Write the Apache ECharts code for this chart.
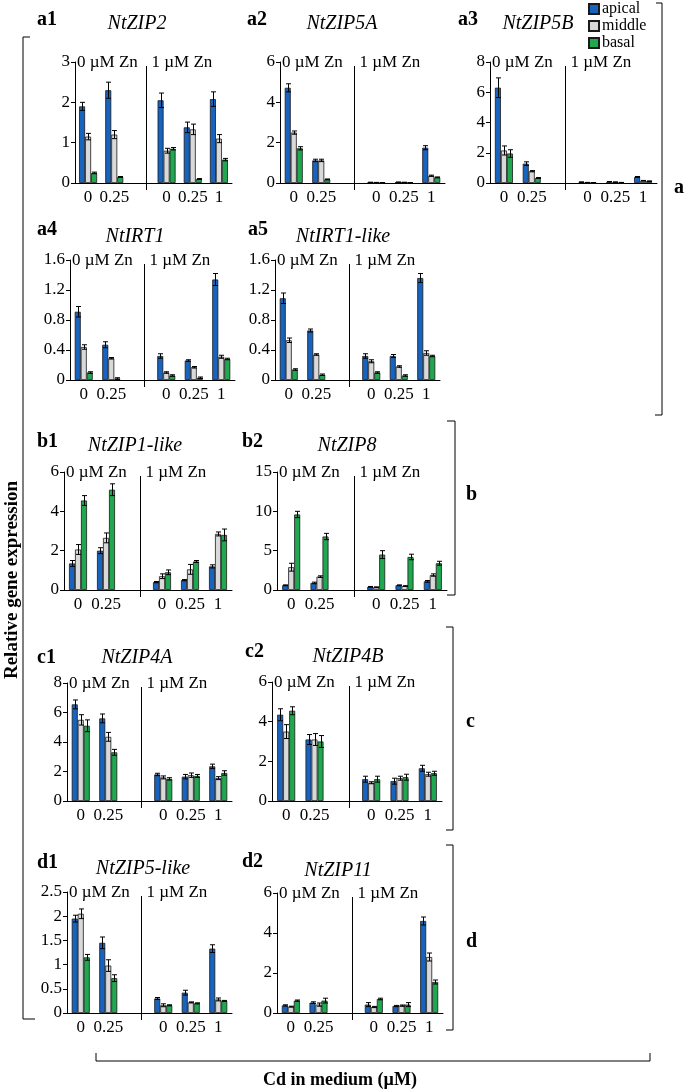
<!DOCTYPE html>
<html><head><meta charset="utf-8">
<script src="https://cdn.jsdelivr.net/npm/echarts@6/dist/echarts.min.js"></script>
<style>html,body{margin:0;padding:0;background:#fff}#c{width:685px;height:1090px}</style>
</head><body><div id="c"></div>
<script>
// ---------- data ----------
const categories = ['0', '0.25', '', '0', '0.25', '1'];
const tissues = ['apical', 'middle', 'basal'];
const panelIds = ['a1', 'a2', 'a3', 'a4', 'a5', 'b1', 'b2', 'c1', 'c2', 'd1', 'd2'];
const genes = ['NtZIP2', 'NtZIP5A', 'NtZIP5B', 'NtIRT1', 'NtIRT1-like', 'NtZIP1-like', 'NtZIP8', 'NtZIP4A', 'NtZIP4B', 'NtZIP5-like', 'NtZIP11'];
const yMax = [3, 6, 8, 1.6, 1.6, 6, 15, 8, 6, 2.5, 6];
const yStep = [1, 2, 2, 0.4, 0.4, 2, 5, 2, 2, 0.5, 2];
const groupLabels = ['a', 'b', 'c', 'd'];
const znLabels = ['0 µM Zn', '1 µM Zn'];

// rows: apical, middle, basal ; columns follow categories (null = empty slot)
const a1Mean = [[1.9, 2.3, null, 2.05, 1.38, 2.08], [1.15, 1.2, null, 0.8, 1.33, 1.1], [0.25, 0.15, null, 0.85, 0.1, 0.58]];
const a1Err  = [[0.1, 0.2, null, 0.18, 0.13, 0.18], [0.08, 0.1, null, 0.06, 0.13, 0.1], [0.02, 0.01, null, 0.03, 0.01, 0.03]];
const a2Mean = [[4.72, 1.12, null, 0.03, 0.04, 1.75], [2.5, 1.12, null, 0.02, 0.03, 0.36], [1.72, 0.18, null, 0.01, 0.01, 0.28]];
const a2Err  = [[0.2, 0.06, null, 0.01, 0.01, 0.1], [0.08, 0.06, null, 0.01, 0.01, 0.03], [0.08, 0.02, null, 0.01, 0.01, 0.02]];
const a3Mean = [[6.3, 1.28, null, 0.06, 0.09, 0.4], [2.15, 0.78, null, 0.03, 0.06, 0.15], [1.95, 0.33, null, 0.02, 0.03, 0.12]];
const a3Err  = [[0.65, 0.12, null, 0.01, 0.01, 0.03], [0.3, 0.04, null, 0.01, 0.01, 0.02], [0.25, 0.03, null, 0.01, 0.01, 0.02]];
const a4Mean = [[0.91, 0.47, null, 0.32, 0.26, 1.34], [0.44, 0.29, null, 0.1, 0.17, 0.31], [0.1, 0.02, null, 0.06, 0.03, 0.28]];
const a4Err  = [[0.07, 0.04, null, 0.03, 0.01, 0.08], [0.03, 0.01, null, 0.01, 0.01, 0.02], [0.01, 0.01, null, 0.01, 0.01, 0.01]];
const a5Mean = [[1.09, 0.66, null, 0.32, 0.32, 1.36], [0.53, 0.34, null, 0.25, 0.18, 0.36], [0.14, 0.07, null, 0.1, 0.06, 0.32]];
const a5Err  = [[0.07, 0.02, null, 0.03, 0.02, 0.06], [0.03, 0.01, null, 0.02, 0.01, 0.03], [0.01, 0.01, null, 0.01, 0.01, 0.01]];
const b1Mean = [[1.35, 2.0, null, 0.4, 0.5, 1.2], [2.06, 2.65, null, 0.7, 1.05, 2.85], [4.55, 5.1, null, 0.9, 1.45, 2.8]];
const b1Err  = [[0.15, 0.15, null, 0.03, 0.03, 0.08], [0.25, 0.25, null, 0.12, 0.25, 0.1], [0.25, 0.3, null, 0.12, 0.05, 0.3]];
const b2Mean = [[0.6, 0.9, null, 0.4, 0.6, 1.1], [2.9, 1.7, null, 0.35, 0.5, 1.9], [9.6, 6.8, null, 4.5, 4.2, 3.4]];
const b2Err  = [[0.05, 0.1, null, 0.05, 0.05, 0.1], [0.5, 0.1, null, 0.05, 0.05, 0.15], [0.4, 0.4, null, 0.5, 0.35, 0.25]];
const c1Mean = [[6.55, 5.6, null, 1.8, 1.65, 2.35], [5.5, 4.35, null, 1.6, 1.75, 1.55], [5.1, 3.3, null, 1.5, 1.7, 1.9]];
const c1Err  = [[0.3, 0.3, null, 0.08, 0.15, 0.15], [0.35, 0.3, null, 0.1, 0.15, 0.1], [0.4, 0.2, null, 0.08, 0.1, 0.15]];
const c2Mean = [[4.35, 3.1, null, 1.1, 1.0, 1.65], [3.5, 3.1, null, 0.92, 1.15, 1.35], [4.55, 3.0, null, 1.1, 1.2, 1.4]];
const c2Err  = [[0.3, 0.25, null, 0.15, 0.15, 0.15], [0.35, 0.3, null, 0.05, 0.1, 0.1], [0.2, 0.3, null, 0.15, 0.15, 0.1]];
const d1Mean = [[1.95, 1.45, null, 0.3, 0.42, 1.33], [2.05, 0.98, null, 0.16, 0.22, 0.28], [1.15, 0.72, null, 0.16, 0.2, 0.25]];
const d1Err  = [[0.07, 0.12, null, 0.02, 0.05, 0.08], [0.1, 0.12, null, 0.03, 0.01, 0.03], [0.06, 0.07, null, 0.01, 0.01, 0.01]];
const d2Mean = [[0.38, 0.52, null, 0.42, 0.35, 4.6], [0.32, 0.42, null, 0.3, 0.37, 2.8], [0.62, 0.62, null, 0.7, 0.42, 1.55]];
const d2Err  = [[0.03, 0.04, null, 0.1, 0.03, 0.2], [0.02, 0.08, null, 0.03, 0.03, 0.2], [0.03, 0.12, null, 0.04, 0.1, 0.1]];

const means = [a1Mean, a2Mean, a3Mean, a4Mean, a5Mean, b1Mean, b2Mean, c1Mean, c2Mean, d1Mean, d2Mean];
const errs  = [a1Err, a2Err, a3Err, a4Err, a5Err, b1Err, b2Err, c1Err, c2Err, d1Err, d2Err];

// ---------- layout / style ----------
const FONT = '"Liberation Serif", "Times New Roman", serif';
const colors = ['#1763be', '#d9d9d9', '#1fa84f'];
const BAR_W = 6;
// [left, top, width, height] of each plot area
const layout = [
  [75, 62, 157, 121], [280, 62, 165, 121], [490, 62, 167, 121],
  [70, 260, 165, 120], [275, 260, 165, 120],
  [64, 472, 168, 118], [277, 472, 170, 118],
  [67, 683, 165, 118], [272, 682, 170, 119],
  [67, 892, 165, 121], [277, 893, 166, 120]
];
// panel label position [x, y] and title centre [x, y]
const labelPos = [[37, 20], [247, 20], [458, 20], [37, 230], [248, 230], [37, 442], [242, 442], [37, 658], [245, 652], [37, 863], [242, 862]];
const titlePos = [[137, 24], [342, 24], [538, 24], [135, 237], [343, 237], [135, 446], [347, 446], [137, 658], [348, 657], [143, 869], [338, 871]];

const chart = echarts.init(document.getElementById('c'), null, {renderer: 'canvas'});

const grids = [], xAxes = [], yAxes = [], series = [];
panelIds.forEach((id, i) => {
  const [l, t, w, h] = layout[i];
  grids.push({left: l, top: t, width: w, height: h, outerBoundsMode: 'none'});
  xAxes.push({
    type: 'category', gridIndex: i, data: categories,
    axisTick: {show: false},
    axisLine: {lineStyle: {color: '#000', width: 1}},
    axisLabel: {interval: 0, hideOverlap: false, color: '#000', fontFamily: FONT, fontSize: 17, margin: 6}
  });
  yAxes.push({
    type: 'value', gridIndex: i, min: 0, max: yMax[i], interval: yStep[i],
    axisLine: {show: true, lineStyle: {color: '#000', width: 1}},
    axisTick: {show: true, length: 4, lineStyle: {color: '#000'}},
    splitLine: {show: false},
    axisLabel: {color: '#000', fontFamily: FONT, fontSize: 17, margin: 5}
  });
  tissues.forEach((tn, j) => {
    series.push({
      type: 'bar', name: tn, xAxisIndex: i, yAxisIndex: i,
      data: means[i][j], barWidth: BAR_W, barGap: '0%',
      itemStyle: {color: colors[j], borderColor: '#1a1a1a', borderWidth: 0.8},
      animation: false, z: 2
    });
  });
  tissues.forEach((tn, j) => {
    const data = [];
    means[i][j].forEach((v, k) => { if (v != null) data.push([k, v, errs[i][j][k]]); });
    const offset = (j - 1) * BAR_W;
    series.push({
      type: 'custom', name: 'err', xAxisIndex: i, yAxisIndex: i, data: data,
      animation: false, z: 3, silent: true,
      encode: {x: 0, y: 1},
      renderItem: (params, api) => {
        const x = api.value(0), m = api.value(1), e = api.value(2);
        const hi = api.coord([x, m + e]);
        const lo = api.coord([x, Math.max(0, m - e)]);
        const cx = Math.round(hi[0] + offset) + 0.5;
        const cw = 2.5;
        const st = {stroke: '#000', lineWidth: 1};
        return {type: 'group', children: [
          {type: 'line', shape: {x1: cx, y1: hi[1], x2: cx, y2: lo[1]}, style: st},
          {type: 'line', shape: {x1: cx - cw, y1: hi[1], x2: cx + cw, y2: hi[1]}, style: st},
          {type: 'line', shape: {x1: cx - cw, y1: lo[1], x2: cx + cw, y2: lo[1]}, style: st}
        ]};
      }
    });
  });
});

chart.setOption({
  animation: false,
  backgroundColor: '#fff',
  grid: grids, xAxis: xAxes, yAxis: yAxes, series: series,
  legend: {
    data: tissues, orient: 'vertical', left: 588, top: 1, padding: 0,
    itemWidth: 10, itemHeight: 10, itemGap: 1, icon: 'rect', selectedMode: false,
    textStyle: {fontFamily: FONT, fontSize: 16, color: '#000', padding: [0, 0, 0, -2]}
  }
});

// ---------- annotations positioned from the axes ----------
const g = [];
const txt = (x, y, text, opt) => g.push(Object.assign({type: 'text', x: x, y: y, silent: true,
  style: Object.assign({text: text, fill: '#000', font: '17px ' + FONT, textAlign: 'left', textVerticalAlign: 'middle'}, opt || {})}));
const ln = (pts, w) => g.push({type: 'polyline', silent: true, shape: {points: pts}, style: {stroke: '#000', lineWidth: w || 1, fill: null}});

panelIds.forEach((id, i) => {
  const xc2 = chart.convertToPixel({xAxisIndex: i}, 2);
  const xc3 = chart.convertToPixel({xAxisIndex: i}, 3);
  const yTop = chart.convertToPixel({yAxisIndex: i}, yMax[i]);
  const yBot = chart.convertToPixel({yAxisIndex: i}, 0);
  const xAxisPos = layout[i][0];
  const divX = Math.round(xc2 + 0.2 * (xc3 - xc2)) + 0.5;
  ln([[divX, yTop + 4], [divX, yBot + 7]], 1);
  txt(xAxisPos + 2, yTop + 1, znLabels[0]);
  txt(divX + 5, yTop + 1, znLabels[1]);
  txt(labelPos[i][0], labelPos[i][1], id, {font: 'bold 20px ' + FONT});
  txt(titlePos[i][0], titlePos[i][1], genes[i], {font: 'italic 20px ' + FONT, textAlign: 'center'});
});

// group brackets on the right
ln([[656, 3], [662, 3], [662, 415], [655, 415]], 1);
txt(674, 188, groupLabels[0], {font: 'bold 20px ' + FONT});
ln([[447, 421], [455, 421], [455, 595], [447, 595]], 1);
txt(466, 495, groupLabels[1], {font: 'bold 20px ' + FONT});
ln([[446, 627], [453, 627], [453, 830], [446, 830]], 1);
txt(466, 722, groupLabels[2], {font: 'bold 20px ' + FONT});
ln([[446, 845], [453, 845], [453, 1030], [446, 1030]], 1);
txt(466, 942, groupLabels[3], {font: 'bold 20px ' + FONT});

// left bracket + y title
ln([[30, 37], [23, 37], [23, 1019], [35, 1019]], 1);
g.push({type: 'text', x: 12, y: 580, rotation: Math.PI / 2, silent: true,
  style: {text: 'Relative gene expression', fill: '#000', font: 'bold 19px ' + FONT, textAlign: 'center', textVerticalAlign: 'middle'}});

// bottom bracket + x title
ln([[96, 1053], [96, 1061], [650, 1061], [650, 1053]], 1);
txt(340, 1080, 'Cd in medium (µM)', {font: 'bold 18px ' + FONT, textAlign: 'center'});

chart.setOption({graphic: g});
</script></body></html>
